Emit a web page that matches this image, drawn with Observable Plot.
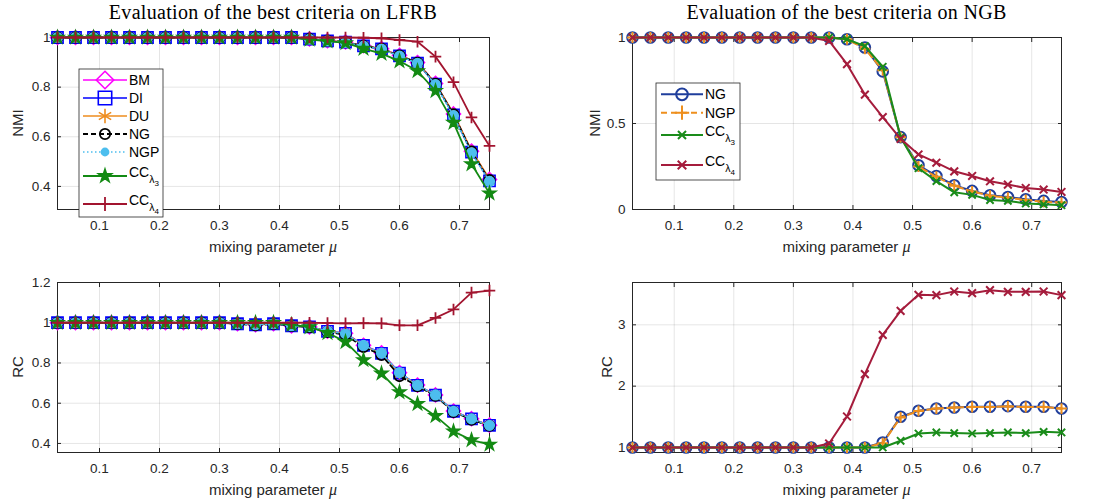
<!DOCTYPE html>
<html><head><meta charset="utf-8">
<script src="https://cdn.jsdelivr.net/npm/d3@7"></script>
<script src="https://cdn.jsdelivr.net/npm/@observablehq/plot@0.6"></script>
<style>
body{margin:0;background:#fff;}
#root{position:relative;width:1094px;height:503px;overflow:hidden;font-family:"Liberation Sans",Arial,sans-serif;}
.abs{position:absolute;}
.title{font-family:"Liberation Serif","DejaVu Serif",serif;font-size:20px;letter-spacing:0.3px;line-height:20px;color:#000;white-space:nowrap;transform:translateX(-50%);}
.xl{font-size:15px;line-height:16px;color:#262626;white-space:nowrap;transform:translateX(-50%);}
.yl{font-size:15px;line-height:16px;color:#262626;white-space:nowrap;transform:translate(-50%,-50%) rotate(-90deg);}
.mu{font-family:"Liberation Serif","DejaVu Serif",serif;font-style:italic;font-size:16px;}
</style></head><body><div id="root"></div>
<script>
// ---------------- data ----------------
const mu = [0.03,0.06,0.09,0.12,0.15,0.18,0.21,0.24,0.27,0.30,0.33,0.36,0.39,0.42,0.45,0.48,0.51,0.54,0.57,0.60,0.63,0.66,0.69,0.72,0.75];
const xTicks = [0.1,0.2,0.3,0.4,0.5,0.6,0.7];

// LFRB – NMI
const lfrbNmiBM  = [1,1,1,1,1,1,1,1,1,1,1,1,1,1,0.994,0.987,0.982,0.967,0.955,0.928,0.899,0.815,0.692,0.542,0.428];
const lfrbNmiDI  = [1,1,1,1,1,1,1,1,1,1,1,1,1,1,0.993,0.986,0.981,0.966,0.954,0.926,0.897,0.812,0.688,0.538,0.422];
const lfrbNmiDU  = [1,1,1,1,1,1,1,1,1,1,1,1,1,1,0.994,0.987,0.982,0.967,0.955,0.927,0.899,0.815,0.694,0.544,0.430];
const lfrbNmiNG  = [1,1,1,1,1,1,1,1,1,1,1,1,1,1,0.994,0.987,0.981,0.966,0.954,0.927,0.898,0.813,0.690,0.540,0.425];
const lfrbNmiNGP = [1,1,1,1,1,1,1,1,1,1,1,1,1,1,0.993,0.986,0.980,0.965,0.953,0.925,0.896,0.810,0.685,0.535,0.420];
const lfrbNmiCC3 = [1,1,1,1,1,1,1,1,1,1,1,1,1,1,0.992,0.985,0.978,0.955,0.935,0.905,0.865,0.785,0.657,0.490,0.372];
const lfrbNmiCC4 = [1,1,1,1,1,1,1,1,1,1,1,1,1,1,1,1,1,0.999,0.997,0.990,0.983,0.923,0.820,0.678,0.563];

// LFRB – RC
const lfrbRcBM  = [1,1,1,1,1,1,1,1,1,1,0.995,0.99,0.995,0.985,0.98,0.958,0.948,0.888,0.850,0.752,0.690,0.641,0.561,0.523,0.491];
const lfrbRcDI  = [1,1,1,1,1,1,1,1,1,1,0.995,0.99,0.995,0.985,0.98,0.957,0.947,0.887,0.848,0.750,0.689,0.640,0.560,0.522,0.490];
const lfrbRcDU  = [1,1,1,1,1,1,1,1,1,1,0.995,0.99,0.995,0.985,0.98,0.958,0.947,0.886,0.847,0.748,0.688,0.640,0.560,0.521,0.490];
const lfrbRcNG  = [1,1,1,1,1,1,1,1,1,1,0.994,0.988,0.994,0.984,0.978,0.955,0.940,0.880,0.840,0.735,0.685,0.637,0.557,0.518,0.488];
const lfrbRcNGP = [1,1,1,1,1,1,1,1,1,1,0.995,0.99,0.995,0.985,0.98,0.958,0.946,0.887,0.849,0.752,0.689,0.641,0.560,0.522,0.490];
const lfrbRcCC3 = [1,1,1,1,1,1,1,1,1,1,1,1,1,0.99,0.978,0.950,0.905,0.815,0.748,0.655,0.597,0.537,0.460,0.417,0.395];
const lfrbRcCC4 = [1,1,1,1,1,1,1,1,1,1,1,1,1,1,1,0.998,0.997,0.998,0.997,0.987,0.987,1.024,1.066,1.150,1.160];

// NGB – NMI
const ngbNmiNG  = [1,1,1,1,1,1,1,1,1,1,1,1,0.99,0.942,0.803,0.421,0.257,0.195,0.141,0.108,0.083,0.073,0.060,0.050,0.044];
const ngbNmiNGP = [1,1,1,1,1,1,1,1,1,1,1,1,0.99,0.935,0.810,0.420,0.250,0.190,0.138,0.105,0.080,0.068,0.055,0.045,0.040];
const ngbNmiCC3 = [1,1,1,1,1,1,1,1,1,1,1,1,0.99,0.950,0.830,0.420,0.240,0.165,0.100,0.085,0.055,0.050,0.035,0.030,0.025];
const ngbNmiCC4 = [1,1,1,1,1,1,1,1,1,1,1,0.98,0.845,0.668,0.537,0.411,0.320,0.272,0.222,0.195,0.164,0.145,0.125,0.116,0.102];

// NGB – RC
const ngbRcNG  = [1,1,1,1,1,1,1,1,1,1,1,1,1,1,1.08,1.50,1.598,1.636,1.652,1.663,1.663,1.674,1.663,1.663,1.636];
const ngbRcNGP = [1,1,1,1,1,1,1,1,1,1,1,1,1,1,1.07,1.49,1.595,1.634,1.650,1.660,1.660,1.670,1.660,1.660,1.634];
const ngbRcCC3 = [1,1,1,1,1,1,1,1,1,1,1,1,1,1,1,1.109,1.228,1.245,1.234,1.228,1.234,1.245,1.234,1.255,1.245];
const ngbRcCC4 = [1,1,1,1,1,1,1,1,1,1,1,1.065,1.505,2.196,2.837,3.228,3.489,3.484,3.543,3.516,3.565,3.538,3.538,3.543,3.484];

// ---------------- styles ----------------
const leftStyles = [
  {name:"BM",  sub:null, color:"#ff00ff", symbol:"diamond2", r:6.3, fill:"none", sw:1.6, dash:null, lk:1.25},
  {name:"DI",  sub:null, color:"#0000ff", symbol:"square",   r:6.3, fill:"none", sw:1.6, dash:null, lk:1.2},
  {name:"DU",  sub:null, color:"#ee8c1e", symbol:"asterisk", r:5.2, fill:"none", sw:1.6, dash:null, lk:1.3},
  {name:"NG",  sub:null, color:"#000000", symbol:"circle",   r:5.2, fill:"none", sw:1.8, dash:"5,3", lk:1.0},
  {name:"NGP", sub:null, color:"#4dbeee", symbol:"circle",   r:4.8, fill:"#4dbeee", sw:1.6, dash:"1.5,2.5", lk:0.75},
  {name:"CC",  sub:"3",  color:"#138a13", symbol:"star",     r:3.7, fill:"#138a13", sw:1.8, dash:null, lk:1.05},
  {name:"CC",  sub:"4",  color:"#a2142f", symbol:"plus",     r:3.8, fill:"none", sw:1.8, dash:null, lk:1.2}
];
const rightStyles = [
  {name:"NG",  sub:null, color:"#1f3e9c", symbol:"circle", r:5.3, fill:"none", sw:2, dash:null, lk:1.1},
  {name:"NGP", sub:null, color:"#ee8f1d", symbol:"plus",   r:3.6, fill:"none", sw:2, dash:"6,4", lk:1.3},
  {name:"CC",  sub:"3",  color:"#1a8c1a", symbol:"times",  r:3.4, fill:"none", sw:2, dash:null, lk:1.1},
  {name:"CC",  sub:"4",  color:"#a51c3c", symbol:"times",  r:3.6, fill:"none", sw:2, dash:null, lk:1.1}
];

const root = document.getElementById("root");

function panel({left, top, width, height, frame, yDomain, yTicks, series, styles}) {
  const [fx0, fy0, fx1, fy1] = frame;
  const marks = [
    Plot.gridX(xTicks, {stroke:"#000", strokeOpacity:0.1}),
    Plot.gridY(yTicks, {stroke:"#000", strokeOpacity:0.1}),
    Plot.frame({stroke:"#262626", strokeWidth:1}),
    Plot.axisX(xTicks, {anchor:"bottom", tickSize:-4, tickPadding:15, tickFormat:d=>String(d), label:null, fontSize:13.5}),
    Plot.axisX(xTicks, {anchor:"top", tickSize:-4, tickFormat:()=>"", label:null}),
    Plot.axisY(yTicks, {anchor:"left", tickSize:-4, tickPadding:11, tickFormat:d=>String(d), label:null, fontSize:13.5}),
    Plot.axisY(yTicks, {anchor:"right", tickSize:-4, tickFormat:()=>"", label:null})
  ];
  series.forEach((vals, i) => {
    const s = styles[i];
    const rows = mu.map((x, j) => ({x, y: vals[j]}));
    marks.push(Plot.line(rows, {x:"x", y:"y", stroke:s.color, strokeWidth:s.sw, strokeDasharray:s.dash || undefined}));
    marks.push(Plot.dot(rows, {x:"x", y:"y", symbol:s.symbol, r:s.r, stroke:s.color, fill:s.fill, strokeWidth:s.sw}));
  });
  const svg = Plot.plot({
    width, height,
    marginLeft: fx0 - left, marginRight: left + width - fx1,
    marginTop: fy0 - top, marginBottom: top + height - fy1,
    x: {domain:[0.03, 0.75]},
    y: {domain: yDomain},
    style: {fontFamily:'"Liberation Sans", Arial, sans-serif', fontSize:"13.5px", color:"#262626", background:"transparent", overflow:"visible"},
    marks
  });
  svg.style.position = "absolute";
  svg.style.left = left + "px";
  svg.style.top = top + "px";
  root.appendChild(svg);
}

function addDiv(cls, html, x, y) {
  const d = document.createElement("div");
  d.className = "abs " + cls;
  d.innerHTML = html;
  d.style.left = x + "px";
  d.style.top = y + "px";
  root.appendChild(d);
}

// frames (page coords): [x0,y0,x1,y1]
const fTL = [57, 37, 489, 209], fTR = [632, 37, 1061, 209];
const fBL = [57, 282, 489, 452], fBR = [632, 282, 1061, 452];

panel({left:0, top:0, width:547, height:250, frame:fTL, yDomain:[0.307,1.0], yTicks:[0.4,0.6,0.8,1],
  series:[lfrbNmiBM,lfrbNmiDI,lfrbNmiDU,lfrbNmiNG,lfrbNmiNGP,lfrbNmiCC3,lfrbNmiCC4], styles:leftStyles});
panel({left:547, top:0, width:547, height:250, frame:fTR, yDomain:[0,1], yTicks:[0,0.5,1],
  series:[ngbNmiNG,ngbNmiNGP,ngbNmiCC3,ngbNmiCC4], styles:rightStyles});
panel({left:0, top:250, width:547, height:253, frame:fBL, yDomain:[0.355,1.2], yTicks:[0.4,0.6,0.8,1,1.2],
  series:[lfrbRcBM,lfrbRcDI,lfrbRcDU,lfrbRcNG,lfrbRcNGP,lfrbRcCC3,lfrbRcCC4], styles:leftStyles});
panel({left:547, top:250, width:547, height:253, frame:fBR, yDomain:[0.918,3.69], yTicks:[1,2,3],
  series:[ngbRcNG,ngbRcNGP,ngbRcCC3,ngbRcCC4], styles:rightStyles});

// titles & axis labels
addDiv("title", "Evaluation of the best criteria on LFRB", (fTL[0]+fTL[2])/2, 2);
addDiv("title", "Evaluation of the best criteria on NGB", (fTR[0]+fTR[2])/2, 2);
const xlab = 'mixing parameter <span class="mu">μ</span>';
[fTL, fTR, fBL, fBR].forEach(f => addDiv("xl", xlab, (f[0]+f[2])/2, f[3] + 30));
addDiv("yl", "NMI", 18, (fTL[1]+fTL[3])/2);
addDiv("yl", "NMI", 595, (fTR[1]+fTR[3])/2);
addDiv("yl", "RC", 18, (fBL[1]+fBL[3])/2);
addDiv("yl", "RC", 607, (fBR[1]+fBR[3])/2);

// legends
const lsvg = d3.select(root).append("svg")
  .attr("width", 1094).attr("height", 503)
  .style("position","absolute").style("left","0px").style("top","0px")
  .style("font-family",'"Liberation Sans", Arial, sans-serif');

function legend(box, rowsY, lineX, styles) {
  const g = lsvg.append("g");
  g.append("rect").attr("x", box[0]).attr("y", box[1]).attr("width", box[2]-box[0]).attr("height", box[3]-box[1])
    .attr("fill", "#fff").attr("stroke", "#262626").attr("stroke-width", 0.8);
  styles.forEach((s, i) => {
    const y = rowsY[i];
    g.append("line").attr("x1", lineX[0]).attr("x2", lineX[1]).attr("y1", y).attr("y2", y)
      .attr("stroke", s.color).attr("stroke-width", s.sw).attr("stroke-dasharray", s.dash);
    const sym = {diamond2:d3.symbolDiamond2, square:d3.symbolSquare, asterisk:d3.symbolAsterisk, circle:d3.symbolCircle,
      star:d3.symbolStar, plus:d3.symbolPlus, times:d3.symbolTimes}[s.symbol];
    const k = s.lk;
    g.append("path").attr("transform", `translate(${(lineX[0]+lineX[1])/2},${y})`)
      .attr("d", d3.symbol(sym, Math.PI*s.r*s.r*k*k)())
      .attr("fill", s.fill).attr("stroke", s.color).attr("stroke-width", s.sw);
    const t = g.append("text").attr("x", lineX[1] + 2).attr("fill", "#000").attr("font-size", 14);
    if (s.sub) {
      t.attr("y", y + 1);
      t.append("tspan").text(s.name);
      t.append("tspan").attr("dy", 6).attr("font-size", 10.5).text("λ");
      t.append("tspan").attr("dy", 3).attr("font-size", 8).text(s.sub);
    } else {
      t.attr("y", y + 5).text(s.name);
    }
  });
}
legend([79, 69, 163, 217], [80, 98, 116, 134, 152, 176, 204], [83, 127], leftStyles);
legend([656, 83, 740, 180], [94.3, 112.7, 135, 165], [661, 703], rightStyles);
</script>
</body></html>
